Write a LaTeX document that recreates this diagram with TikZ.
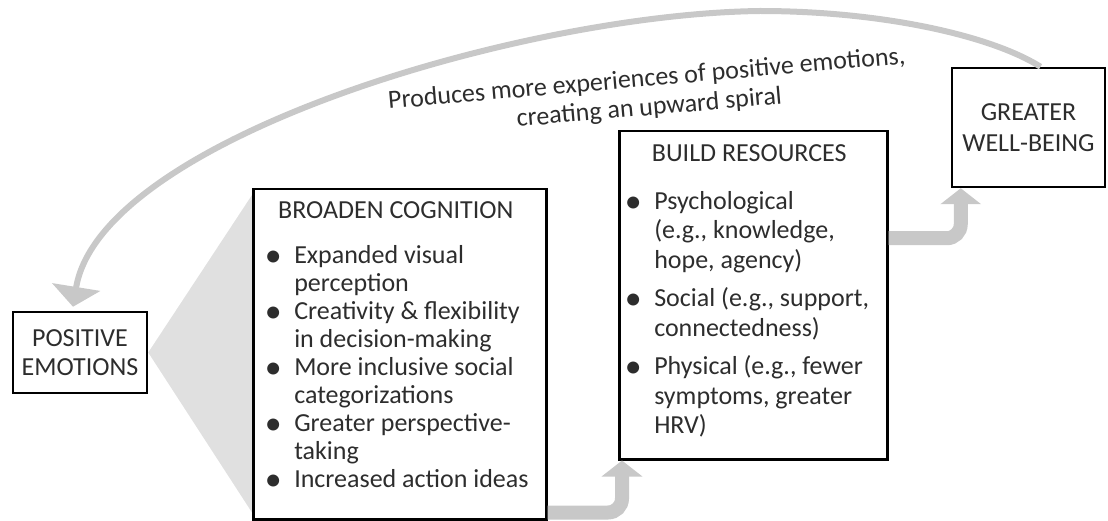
\documentclass[tikz,border=0pt]{standalone}
\usepackage{fontspec}
\setmainfont{Carlito}
\usepackage{graphicx}
\usepackage{enumitem}
\usetikzlibrary{arrows.meta, positioning, calc, backgrounds}
\definecolor{txtgray}{RGB}{45,45,45}
\definecolor{arrowgray}{RGB}{200,200,200}
\definecolor{wedgegray}{RGB}{224,224,224}
\setlist[itemize]{label={\makebox[13pt]{\raisebox{-3pt}{\scalebox{1.3}{\textbullet}}}}, align=left, labelwidth=13pt, labelsep=14.5pt, partopsep=0pt, parsep=0pt, rightmargin=-8pt}

\begin{document}
\begin{tikzpicture}[x=1pt, y=-1pt, thick,
    box/.style={draw, line width=2.5pt, inner sep=0pt, text=txtgray, font=\fontsize{26}{29}\selectfont},
    fat/.style={draw=arrowgray, line width=14pt, rounded corners=14pt, -{Triangle[width=40pt, length=16pt]}},
    looparrow/.style={draw=arrowgray, line width=6pt, -{Triangle[width=48pt, length=20pt]}}]
  \useasboundingbox (0,0) rectangle (1108,521);
  \node[box, minimum width=134pt, minimum height=81pt, align=center] (pos) at (80,352.5) {POSITIVE\\EMOTIONS};
  \node[box, anchor=north west] (broad) at (252,188) {\parbox[c][330pt][t]{285pt}{\fontsize{26}{28}\selectfont
      \centerline{\rule{0pt}{29pt}BROADEN COGNITION}
      \begin{itemize}[leftmargin=41pt, topsep=17pt, itemsep=0pt]
        \item Expanded visual\\perception
        \item Creativity \& flexibility\\in decision-making
        \item More inclusive social\\categorizations
        \item Greater perspective-\\taking
        \item Increased action ideas
      \end{itemize}}};
  \node[box, anchor=north west] (build) at (618,130) {\parbox[c][328pt][t]{260pt}{\fontsize{26}{29.5}\selectfont
      \centerline{\rule{0pt}{30pt}BUILD RESOURCES}
      \begin{itemize}[leftmargin=35pt, topsep=18.5pt, itemsep=9pt]
        \item Psychological\\(e.g., knowledge,\\hope, agency)
        \item Social (e.g., support,\\connectedness)
        \item Physical (e.g., fewer\\symptoms, greater\\HRV)
      \end{itemize}}};
  \node[box, minimum width=153pt, minimum height=119pt, align=center, font=\fontsize{26}{31}\selectfont] (well) at (1028.5,127.5) {GREATER\\WELL-BEING};
  \node[text=txtgray, font=\fontsize{26}{29}\selectfont, align=center, rotate=5] (note) at (648,94) {Produces more experiences of positive emotions,\\creating an upward spiral};
  \begin{scope}[on background layer]
    \fill[wedgegray] (pos.east) -- ($(broad.north west)+(0,7)$) -- ($(broad.south west)+(0,-8)$) -- cycle;
  \end{scope}
  \draw[fat] ($(broad.south east)+(0,-8)$) -| ($(build.south west)+(4,0)$);
  \draw[fat] ($(build.east)+(0,-57)$) -| ($(well.south west)+(10,0)$);
  \draw[looparrow] ($(well.north)+(12,0)$) .. controls (990,35) and (880,11) .. (760,11)
    .. controls (520,14) and (100,140) .. ($(pos.north)+(-7,-4)$);
\end{tikzpicture}
\end{document}
